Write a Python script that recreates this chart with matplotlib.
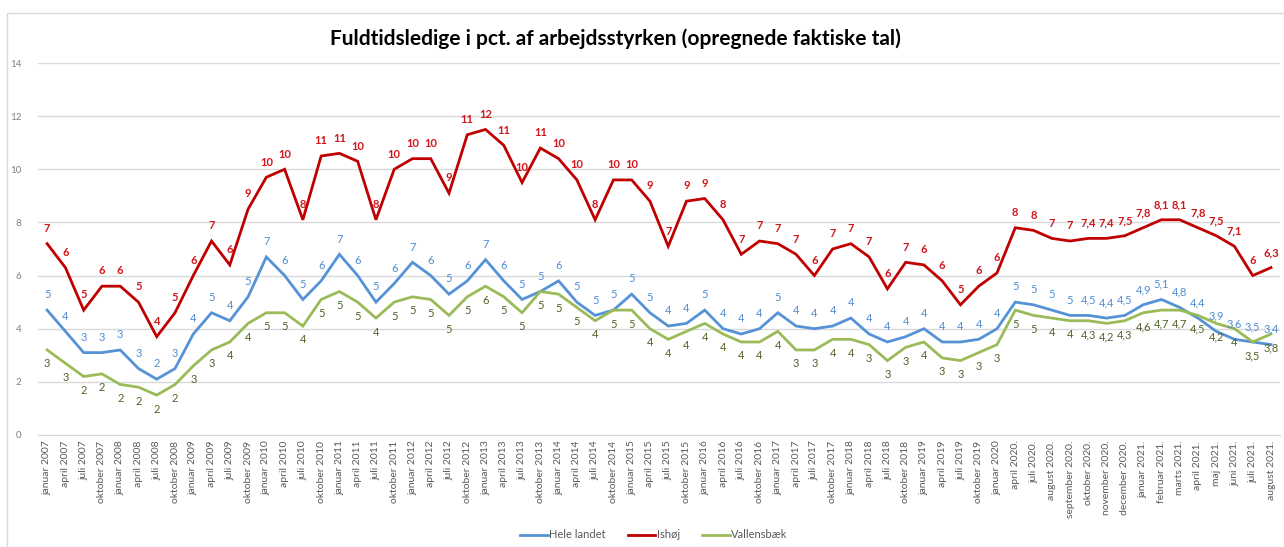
import numpy as np
import matplotlib
matplotlib.use("Agg")
import matplotlib.pyplot as plt
from matplotlib.patches import Rectangle

plt.rcParams['font.family'] = ['Lato', 'DejaVu Sans']

# -------------------------------
# Data
# -------------------------------
quarter_names = ["januar", "april", "juli", "oktober"]
years = list(range(2007, 2020))
quarterly_labels = [f"{q} {y}" for y in years for q in quarter_names] + ["januar 2020"]
monthly_labels = ["april 2020.", "juli 2020.", "august 2020.", "september 2020.",
                  "oktober 2020.", "november 2020.", "december 2020.", "januar 2021.",
                  "februar 2021.", "marts 2021.", "april 2021.", "maj 2021.",
                  "juni 2021.", "juli 2021.", "august 2021."]
categories = quarterly_labels + monthly_labels

hele_landet = [4.7, 3.9, 3.1, 3.1, 3.2, 2.5, 2.1, 2.5, 3.8, 4.6, 4.3, 5.2,
               6.7, 6.0, 5.1, 5.8, 6.8, 6.0, 5.0, 5.7, 6.5, 6.0, 5.3, 5.8,
               6.6, 5.8, 5.1, 5.4, 5.8, 5.0, 4.5, 4.7, 5.3, 4.6, 4.1, 4.2,
               4.7, 4.0, 3.8, 4.0, 4.6, 4.1, 4.0, 4.1, 4.4, 3.8, 3.5, 3.7,
               4.0, 3.5, 3.5, 3.6, 4.0, 5.0, 4.9, 4.7, 4.5, 4.5, 4.4, 4.5,
               4.9, 5.1, 4.8, 4.4, 3.9, 3.6, 3.5, 3.4]

ishoej = [7.2, 6.3, 4.7, 5.6, 5.6, 5.0, 3.7, 4.6, 6.0, 7.3, 6.4, 8.5,
          9.7, 10.0, 8.1, 10.5, 10.6, 10.3, 8.1, 10.0, 10.4, 10.4, 9.1, 11.3,
          11.5, 10.9, 9.5, 10.8, 10.4, 9.6, 8.1, 9.6, 9.6, 8.8, 7.1, 8.8,
          8.9, 8.1, 6.8, 7.3, 7.2, 6.8, 6.0, 7.0, 7.2, 6.7, 5.5, 6.5,
          6.4, 5.8, 4.9, 5.6, 6.1, 7.8, 7.7, 7.4, 7.3, 7.4, 7.4, 7.5,
          7.8, 8.1, 8.1, 7.8, 7.5, 7.1, 6.0, 6.3]

vallensbaek = [3.2, 2.7, 2.2, 2.3, 1.9, 1.8, 1.5, 1.9, 2.6, 3.2, 3.5, 4.2,
               4.6, 4.6, 4.1, 5.1, 5.4, 5.0, 4.4, 5.0, 5.2, 5.1, 4.5, 5.2,
               5.6, 5.2, 4.6, 5.4, 5.3, 4.8, 4.3, 4.7, 4.7, 4.0, 3.6, 3.9,
               4.2, 3.8, 3.5, 3.5, 3.9, 3.2, 3.2, 3.6, 3.6, 3.4, 2.8, 3.3,
               3.5, 2.9, 2.8, 3.1, 3.4, 4.7, 4.5, 4.4, 4.3, 4.3, 4.2, 4.3,
               4.6, 4.7, 4.7, 4.5, 4.2, 4.0, 3.5, 3.8]

# labels shown with one decimal from "oktober 2020." onwards
first_decimal = categories.index("oktober 2020.")


def fmt_label(i, v):
    if i < first_decimal:
        return f"{int(np.floor(v + 0.5 + 1e-9))}"
    if abs(v - round(v)) < 1e-9:
        return f"{int(round(v))}"
    return f"{v:.1f}".replace(".", ",")


# -------------------------------
# Plot
# -------------------------------
fig = plt.figure(figsize=(12.84, 5.47), dpi=100)
ax = fig.add_axes([0.0296, 0.2048, 0.9674, 0.68])

x = np.arange(len(categories))
series = [
    ("Hele landet", hele_landet, "#5592D6", "#4F8BD0", 7, "normal"),
    ("Ishøj", ishoej, "#C00000", "#D0151B", 7, "bold"),
    ("Vallensbæk", vallensbaek, "#9BBB59", "#4F6228", -14, "normal"),
]
for name, vals, col, lcol, dy, fw in series:
    ax.plot(x, vals, color=col, lw=2.0, label=name, solid_joinstyle="miter")
    for i, v in enumerate(vals):
        ax.annotate(fmt_label(i, v), (i, v), xytext=(0, dy), textcoords="offset points",
                    ha="center", va="bottom", fontsize=8, color=lcol, fontweight=fw)

ax.set_xlim(-0.5, len(categories) - 0.5)
ax.set_ylim(0, 14)
ax.set_yticks(range(0, 15, 2))
ax.set_xticks(x)
ax.set_xticklabels(categories, rotation=90, fontsize=7.5, color="#595959")
ax.tick_params(axis="y", labelsize=7, colors="#808080", length=0, pad=12)
ax.tick_params(axis="x", length=0, pad=4)
ax.grid(axis="y", color="#D9D9D9", lw=1)
ax.set_axisbelow(True)
for s in ["top", "right", "left"]:
    ax.spines[s].set_visible(False)
ax.spines["bottom"].set_color("#D9D9D9")

fig.text(0.479, 0.93, "Fuldtidsledige i pct. af arbejdsstyrken (opregnede faktiske tal)",
         ha="center", va="center", fontsize=15, fontweight="bold", color="black")

fig.legend(loc="center", bbox_to_anchor=(0.509, 0.022), ncol=3, frameon=False,
           fontsize=8, handlelength=2.5, handletextpad=0.1, columnspacing=2.0,
           labelcolor="#595959")

# chart border
fig.patches.append(Rectangle((7 / 1284, -0.1), 1.2, 1 - 13 / 547 + 0.1,
                             transform=fig.transFigure, fill=False,
                             edgecolor="#D9D9D9", lw=1))

fig.savefig("out.png", dpi=100)
